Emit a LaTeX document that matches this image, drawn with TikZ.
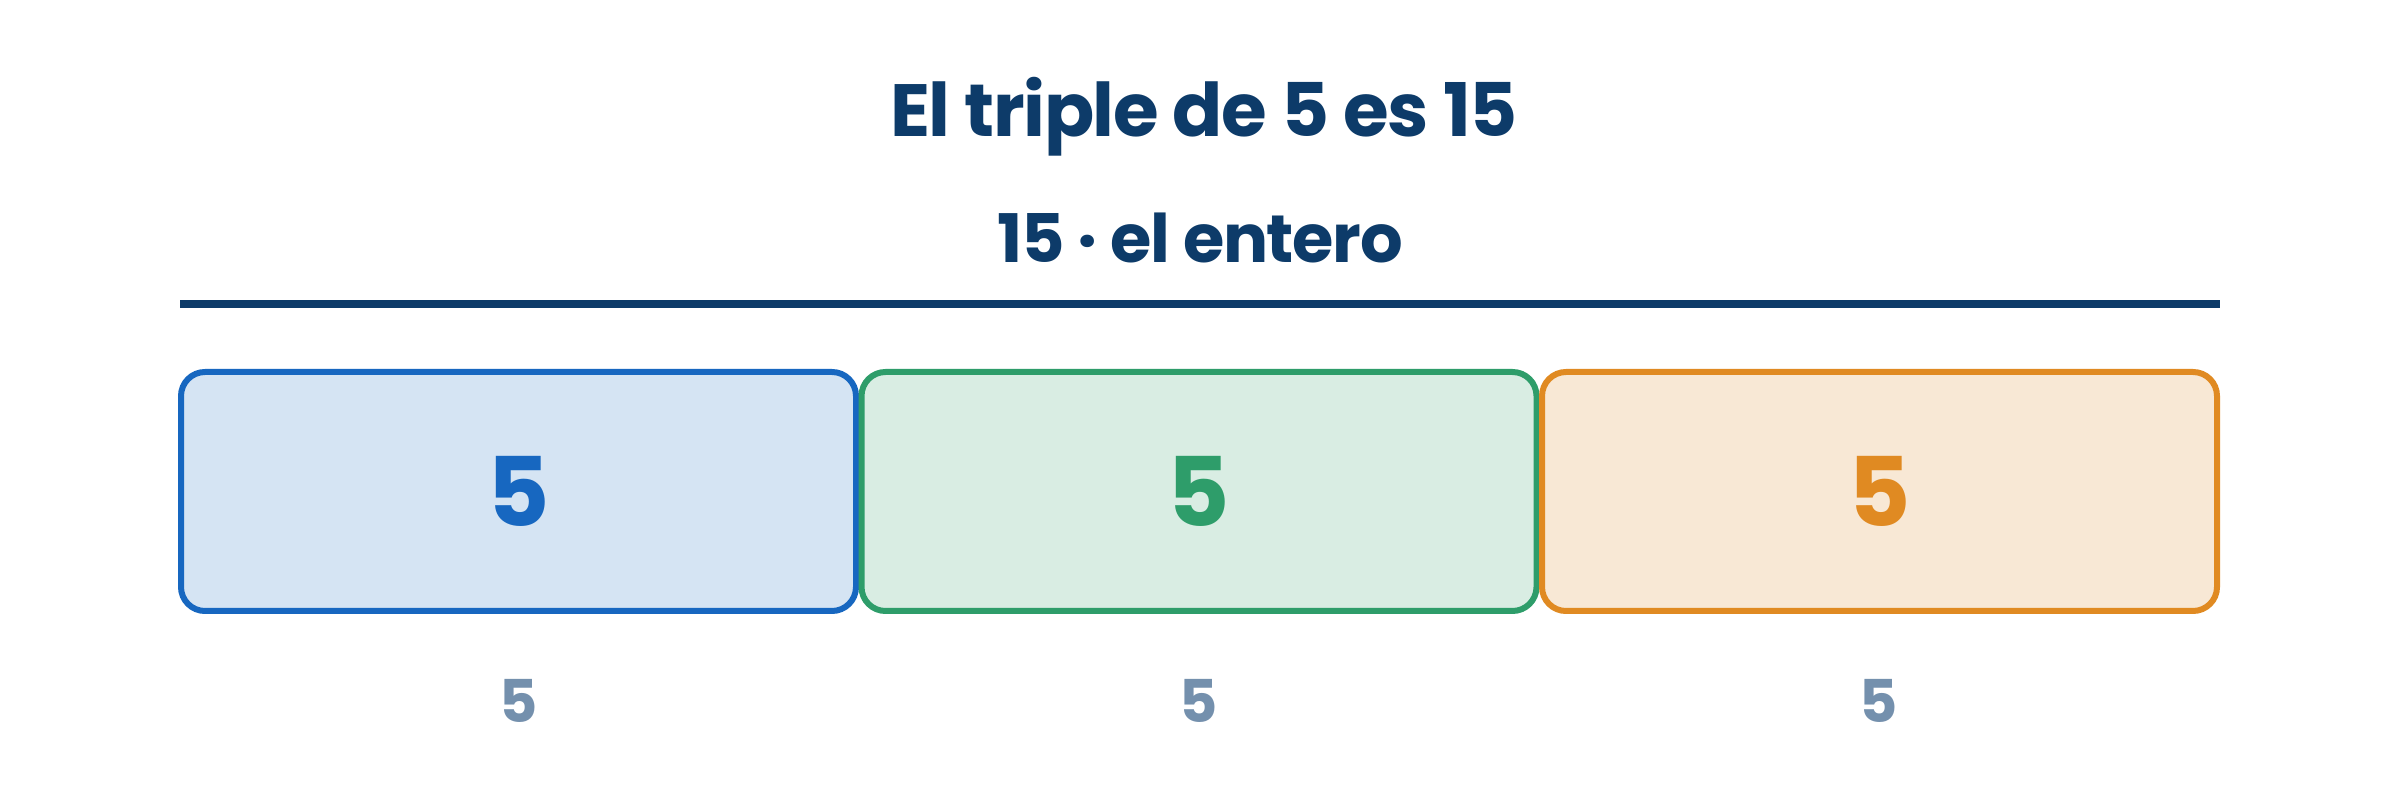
\documentclass[tikz,border=0pt]{standalone}
\usepackage{fontspec}
\setmainfont{Poppins}
\definecolor{navy}{HTML}{0D3B69}
\definecolor{bstroke}{HTML}{1767C0}
\definecolor{bfill}{HTML}{D5E4F3}
\definecolor{gstroke}{HTML}{2E9D6A}
\definecolor{gfill}{HTML}{D9EDE3}
\definecolor{ostroke}{HTML}{E08A22}
\definecolor{ofill}{HTML}{F8E8D5}
\definecolor{slate}{HTML}{7490AD}
\tikzset{
  part/.style={draw, rounded corners=24pt, line width=6pt, minimum width=675pt, minimum height=239pt, inner sep=0pt, font=\fontsize{96}{96}\selectfont\bfseries},
  lbl/.style={anchor=base, inner sep=0pt, text=slate, font=\fontsize{59}{59}\selectfont\bfseries},
  ttl/.style={anchor=base, inner sep=0pt, text=navy, font=\fontsize{74}{74}\selectfont\bfseries\addfontfeatures{LetterSpace=-2}},
  sub/.style={anchor=base, inner sep=0pt, text=navy, font=\fontsize{67}{67}\selectfont\bfseries\addfontfeatures{LetterSpace=-2}}
}
\begin{document}
\begin{tikzpicture}[x=1pt,y=1pt]
\useasboundingbox[fill=white] (0,0) rectangle (2400,792);
\node[ttl] (title) at (1204,655) {El triple de 5 es 15};
\node[sub] (subtitle) at (1200,529) {15 · el entero};
\coordinate (ruleL) at (180,488);
\coordinate (ruleR) at (2220,488);
\draw[navy, line width=7.5pt] (ruleL) -- (ruleR);
\node[part, draw=bstroke, fill=bfill, text=bstroke] (b1) at (518.5,300.5) {5};
\node[part, draw=gstroke, fill=gfill, text=gstroke] (b2) at (1199,300.5) {5};
\node[part, draw=ostroke, fill=ofill, text=ostroke] (b3) at (1879.5,300.5) {5};
\node[lbl] (l1) at (519,69) {5};
\node[lbl] (l2) at (1199,69) {5};
\node[lbl] (l3) at (1879,69) {5};
\end{tikzpicture}
\end{document}
